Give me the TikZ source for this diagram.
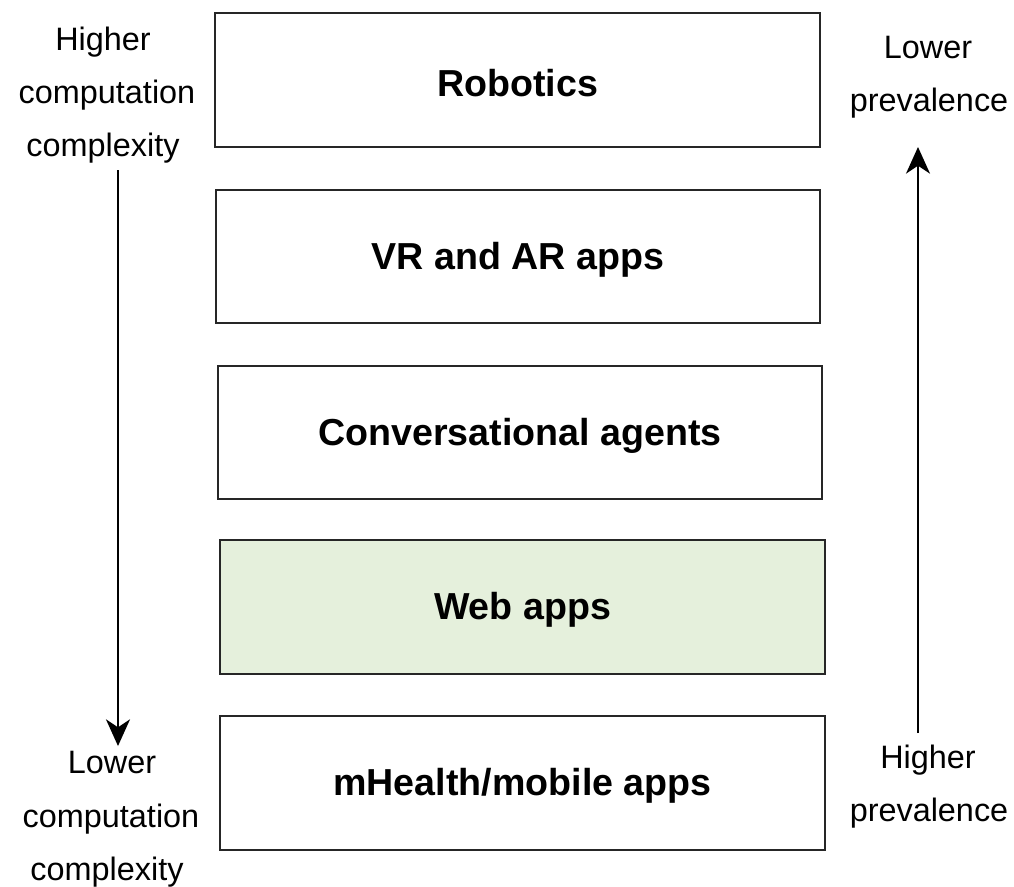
\documentclass[tikz,border=0pt]{standalone}
\usepackage{fontspec}
\setmainfont{Liberation Sans}
\usetikzlibrary{arrows.meta}
\definecolor{webfill}{HTML}{E5F0DC}
\begin{document}
\begin{tikzpicture}[x=0.75pt,y=-0.75pt,
  layer/.style={draw=black!85,line width=1.9pt,fill=white,inner sep=0pt},
  boxtext/.style={font=\fontsize{28.2}{34}\selectfont\bfseries},
  side/.style={anchor=base,inner sep=0pt,font=\fontsize{24.3}{28}\selectfont},
  flow/.style={line width=1.5pt,-{Stealth[length=20pt,width=18pt,inset=6pt]}}]
\useasboundingbox (0,0) rectangle (1014,886);
\path[layer] (215,13) rectangle (820,147);
\node[boxtext] (rob) at (517.5,83) {Robotics};
\path[layer] (216,190) rectangle (820,323);
\node[boxtext] (vr) at (518,260) {VR and AR apps};
\path[layer] (218,366) rectangle (822,499);
\node[boxtext] (conv) at (520,436) {Conversational agents};
\path[layer,fill=webfill] (220,540) rectangle (825,674);
\node[boxtext] (web) at (522.5,610) {Web apps};
\path[layer] (220,716) rectangle (825,850);
\node[boxtext] (mh) at (522.5,786) {mHealth/mobile apps};
% left labels
\node[side] (hc1) at (103,50) {Higher};
\node[side] (hc2) at (107,103) {computation};
\node[side] (hc3) at (103,156) {complexity};
\node[side] (lc1) at (112,773) {Lower};
\node[side] (lc2) at (111,827) {computation};
\node[side] (lc3) at (107,880) {complexity};
% right labels
\node[side] (lp1) at (928,58) {Lower};
\node[side] (lp2) at (929,111) {prevalence};
\node[side] (hp1) at (928,768) {Higher};
\node[side] (hp2) at (929,821) {prevalence};
\coordinate (la) at (118,170);
\coordinate (lb) at (118,746);
\coordinate (ra) at (918,733);
\coordinate (rb) at (918,147);
\draw[flow] (la) -- (lb);
\draw[flow] (ra) -- (rb);
\end{tikzpicture}
\end{document}
